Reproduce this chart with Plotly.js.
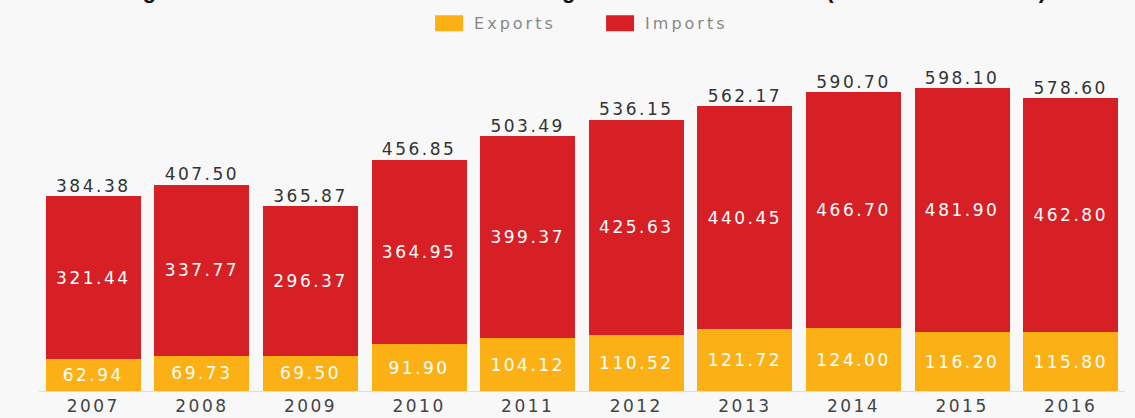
<!DOCTYPE html>
<html>
<head>
<meta charset="utf-8">
<script src="https://cdn.plot.ly/plotly-3.0.1.min.js"></script>
<style>
html,body{margin:0;padding:0;background:#f8f8f8;}
#chart{width:1135px;height:418px;}
#chart .textpoint text, #chart .xtick text, #chart text.bartext{letter-spacing:2.5px;}
#chart .legendtext{letter-spacing:3px;}
#chart .legendpoints path{d:path("M9,8H-19V-8H9Z");}
</style>
</head>
<body>
<div id="chart"></div>
<script>
var years = ["2007","2008","2009","2010","2011","2012","2013","2014","2015","2016"];
var exportsVals = [62.94, 69.73, 69.50, 91.90, 104.12, 110.52, 121.72, 124.00, 116.20, 115.80];
var importsVals = [321.44, 337.77, 296.37, 364.95, 399.37, 425.63, 440.45, 466.70, 481.90, 462.80];
var titleText = "Foreign trade balance of the United States in goods from 2007 to 2016 (in billion US dollars)";

var totals = years.map(function(_, i){ return exportsVals[i] + importsVals[i]; });
var fmt = function(v){ return v.toFixed(2); };
var FONT = "DejaVu Sans, sans-serif";

var traces = [
  {type:"bar", name:"Exports", x:years, y:exportsVals,
   marker:{color:"#fbb116"}, text:exportsVals.map(fmt), textposition:"inside",
   insidetextanchor:"middle", textfont:{color:"#ffffff", size:17, family:FONT},
   constraintext:"none", hoverinfo:"x+y"},
  {type:"bar", name:"Imports", x:years, y:importsVals,
   marker:{color:"#d71f26"}, text:importsVals.map(fmt), textposition:"inside",
   insidetextanchor:"middle", textfont:{color:"#ffffff", size:17, family:FONT},
   constraintext:"none", hoverinfo:"x+y"},
  {type:"scatter", mode:"text", x:years, y:totals, text:totals.map(fmt),
   textposition:"top center", textfont:{color:"#333333", size:17, family:FONT},
   showlegend:false, hoverinfo:"skip", cliponaxis:false}
];

var layout = {
  width:1135, height:418,
  paper_bgcolor:"#f8f8f8", plot_bgcolor:"#f8f8f8",
  barmode:"stack", bargap:0.125,
  margin:{l:39, r:10, t:67, b:27},
  font:{family:FONT, color:"#444"},
  showlegend:true,
  legend:{orientation:"h", x:0.3638, xanchor:"left", y:0.985, yanchor:"top",
          yref:"container", font:{size:16, color:"#888", family:FONT},
          entrywidth:126, entrywidthmode:"pixels", traceorder:"normal"},
  xaxis:{type:"category", showgrid:false, showline:true, linecolor:"#dddddd", linewidth:1,
         ticks:"", tickfont:{size:17, color:"#444", family:FONT}, fixedrange:true},
  yaxis:{range:[0,640], visible:false, showgrid:false, zeroline:false, fixedrange:true},
  annotations:[{text:"<b>"+titleText+"</b>", xref:"paper", yref:"paper", x:0.4866, y:1.191,
                xanchor:"center", yanchor:"bottom", showarrow:false,
                font:{size:22, color:"#111", family:"Liberation Sans, Arial, sans-serif"}}]
};

Plotly.newPlot("chart", traces, layout, {displayModeBar:false, staticPlot:true});
</script>
</body>
</html>
